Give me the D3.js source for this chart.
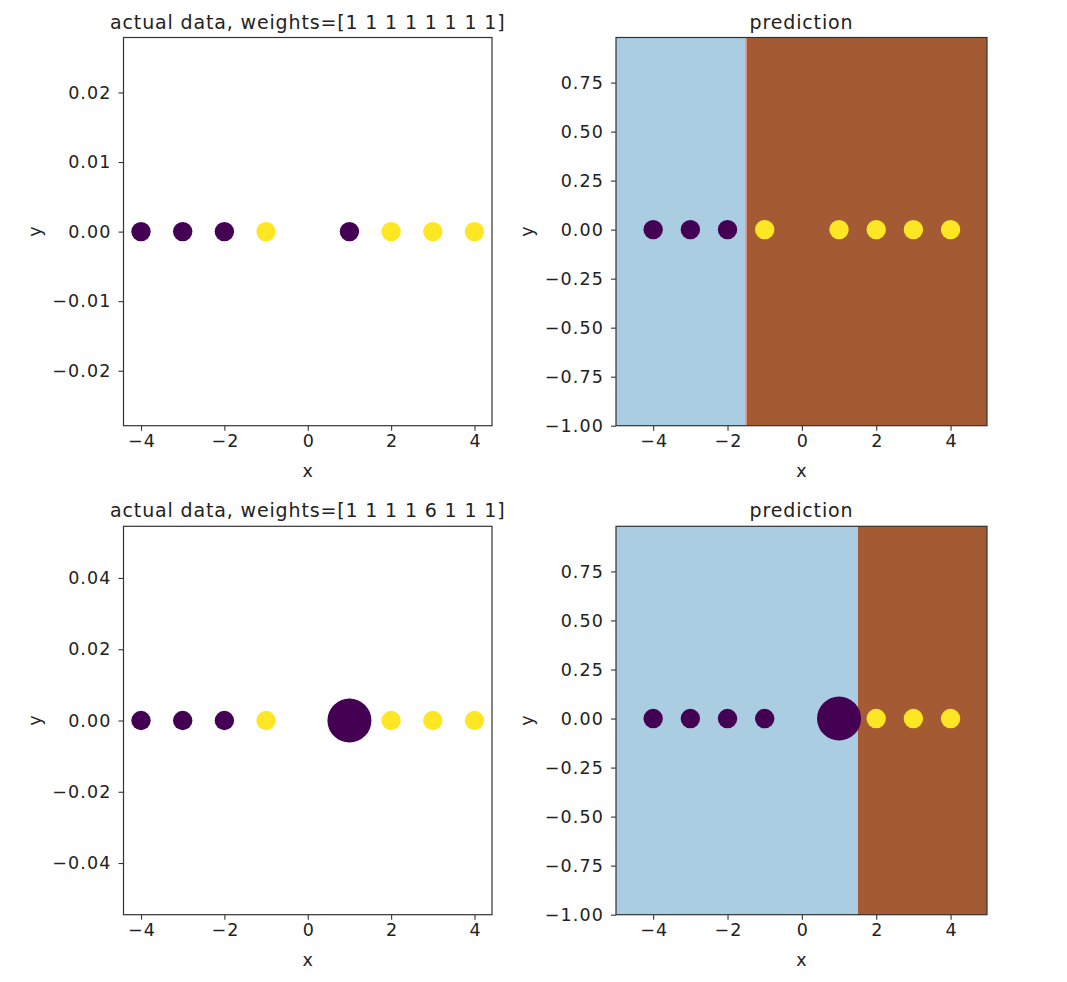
<!DOCTYPE html>
<html>
<head>
<meta charset="utf-8">
<script src="https://cdn.jsdelivr.net/npm/d3@7"></script>
<style>
  body { margin: 0; background: #fff; }
  text { font-family: "DejaVu Sans", sans-serif; fill: #222; }
</style>
</head>
<body>
<div id="chart"></div>
<script>
// data
const xs = [-4, -3, -2, -1, 1, 2, 3, 4];
const labels = [0, 0, 0, 1, 0, 1, 1, 1];
const weightsA = [1, 1, 1, 1, 1, 1, 1, 1];
const weightsB = [1, 1, 1, 1, 6, 1, 1, 1];
const predA = [0, 0, 0, 1, 1, 1, 1, 1];
const predB = [0, 0, 0, 0, 0, 1, 1, 1];
const thresholdA = -1.5;
const thresholdB = 1.5;
const xTicks = [-4, -2, 0, 2, 4];
const yTicksA = [-0.02, -0.01, 0, 0.01, 0.02];
const yTicksB = [-0.04, -0.02, 0, 0.02, 0.04];
const predYTicks = [-1, -0.75, -0.5, -0.25, 0, 0.25, 0.5, 0.75];
const titleA = 'actual data, weights=[' + weightsA.join(' ') + ']';
const titleB = 'actual data, weights=[' + weightsB.join(' ') + ']';

const W = 1067, H = 982;
const pointColor = ['#440154', '#fde725'];
const regionColor = ['#abcde1', '#a45b33'];

const svg = d3.select('#chart').append('svg')
    .attr('width', W)
    .attr('height', H);

const radius = d3.scaleSqrt().domain([1, 6]).range([9.7, 22]);

function drawAxes(g, box, x, y, yTicks, yFmt, title) {
    const xa = g.append('g')
        .attr('transform', `translate(0,${box.bottom})`)
        .call(d3.axisBottom(x).tickValues(xTicks).tickFormat(d3.format('d')).tickSize(5).tickPadding(4));
    const ya = g.append('g')
        .attr('transform', `translate(${box.left},0)`)
        .call(d3.axisLeft(y).tickValues(yTicks).tickFormat(d3.format(yFmt)).tickSize(5).tickPadding(7));
    [xa, ya].forEach(a => {
        a.select('.domain').remove();
        a.selectAll('line').attr('stroke', '#333').attr('stroke-width', 1.1);
        a.selectAll('text').attr('font-size', 17.5).attr('fill', '#222')
            .attr('letter-spacing', 1.1)
            .style('font-family', '"DejaVu Sans", sans-serif');
    });
    // letter-spacing pads the end, shift centred labels back
    xa.selectAll('text').attr('dx', 0.55);

    // frame
    g.append('rect')
        .attr('x', box.left)
        .attr('y', box.top)
        .attr('width', box.right - box.left)
        .attr('height', box.bottom - box.top)
        .attr('fill', 'none')
        .attr('stroke', '#333')
        .attr('stroke-width', 1.2);

    g.append('text')
        .attr('x', (box.left + box.right) / 2)
        .attr('y', box.top - 9)
        .attr('text-anchor', 'middle')
        .attr('font-size', 19)
        .attr('letter-spacing', 0.85)
        .text(title);

    g.append('text')
        .attr('x', (box.left + box.right) / 2)
        .attr('y', box.bottom + 51)
        .attr('text-anchor', 'middle')
        .attr('font-size', 17.5)
        .text('x');

    g.append('text')
        .attr('transform', `translate(${box.left - 83},${(box.top + box.bottom) / 2}) rotate(-90)`)
        .attr('text-anchor', 'middle')
        .attr('font-size', 17.5)
        .text('y');
}

function drawPoints(g, x, y, colors, weights) {
    g.append('g')
        .selectAll('circle')
        .data(xs.map((v, i) => ({ x: v, c: colors[i], w: weights[i] })))
        .enter()
        .append('circle')
        .attr('cx', d => x(d.x))
        .attr('cy', y(0))
        .attr('r', d => radius(d.w))
        .attr('fill', d => pointColor[d.c]);
}

function dataPanel(box, yDomain, yTicks, weights, title) {
    const g = svg.append('g');
    const x = d3.scaleLinear().domain([-4.42, 4.42]).range([box.left, box.right]);
    const y = d3.scaleLinear().domain(yDomain).range([box.bottom, box.top]);
    drawPoints(g, x, y, labels, weights);
    drawAxes(g, box, x, y, yTicks, '.2f', title);
}

function predPanel(box, threshold, preds, weights, edge) {
    const g = svg.append('g');
    const x = d3.scaleLinear().domain([-5, 4.98]).range([box.left, box.right]);
    const y = d3.scaleLinear().domain([-1, 0.98]).range([box.bottom, box.top]);
    const regions = [
        { x0: -5, x1: threshold, c: 0 },
        { x0: threshold, x1: 4.98, c: 1 }
    ];
    g.append('g')
        .selectAll('rect')
        .data(regions)
        .enter()
        .append('rect')
        .attr('x', d => x(d.x0))
        .attr('y', box.top)
        .attr('width', d => x(d.x1) - x(d.x0))
        .attr('height', box.bottom - box.top)
        .attr('fill', d => regionColor[d.c])
        .attr('shape-rendering', 'crispEdges');
    if (edge) {
        g.append('line')
            .attr('x1', x(threshold)).attr('x2', x(threshold))
            .attr('y1', box.top).attr('y2', box.bottom)
            .attr('stroke', '#e8958a')
            .attr('stroke-width', 1.5);
    }
    drawPoints(g, x, y, preds, weights);
    drawAxes(g, box, x, y, predYTicks, '.2f', 'prediction');
}

const leftCol = { left: 123.5, right: 492 };
const rightCol = { left: 616, right: 987 };
const topRow = { top: 37.5, bottom: 425.7 };
const botRow = { top: 526.3, bottom: 914.7 };

dataPanel({ ...leftCol, ...topRow }, [-0.0279, 0.0279], yTicksA, weightsA, titleA);
predPanel({ ...rightCol, ...topRow }, thresholdA, predA, weightsA, true);
dataPanel({ ...leftCol, ...botRow }, [-0.0545, 0.0545], yTicksB, weightsB, titleB);
predPanel({ ...rightCol, ...botRow }, thresholdB, predB, weightsB, false);
</script>
</body>
</html>
